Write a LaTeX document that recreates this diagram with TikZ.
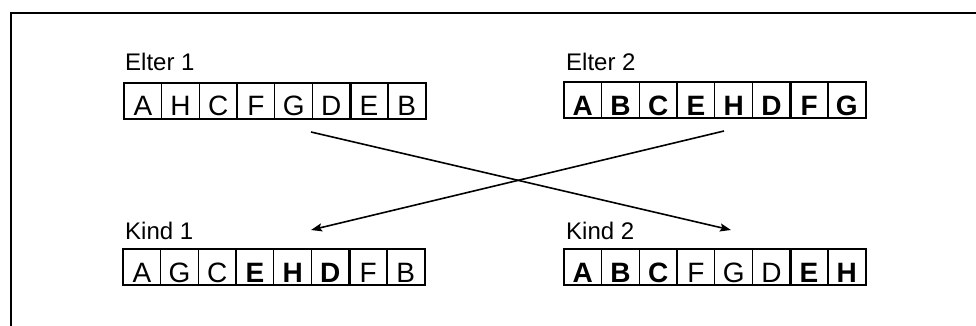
\documentclass[tikz,border=0pt]{standalone}
\usepackage{fontspec}
\setmainfont{Liberation Sans}
\usetikzlibrary{arrows.meta}
\begin{document}
\begin{tikzpicture}[x=1pt,y=1pt,
  cell/.style={draw, line width=1.3pt, minimum width=37.7pt, minimum height=36pt, inner sep=0pt, outer sep=0pt,
    text height=33pt, text depth=3pt, anchor=north west, font=\fontsize{28}{28}\selectfont},
  bcell/.style={cell, font=\fontsize{28}{28}\selectfont\bfseries},
  lbl/.style={anchor=base west, inner sep=0pt, font=\fontsize{24}{24}\selectfont},
  conn/.style={line width=1.6pt, -{Stealth[length=11pt,width=8pt,inset=2pt]}},
  frame/.style={line width=2.2pt},
  sep/.style={line width=2.6pt},
  outer/.style={line width=2pt}]
\useasboundingbox (0,0) rectangle (976,-326);
\clip (0,0) rectangle (976,-326);
\draw[frame] (11,-13) rectangle (1000,-400);

% labels
\node[lbl] (le1) at (125,-71) {Elter 1};
\node[lbl] (le2) at (566,-71) {Elter 2};
\node[lbl] (lk1) at (125,-239) {Kind 1};
\node[lbl] (lk2) at (566,-239) {Kind 2};

% Elter 1
\foreach \t/\w [count=\i] in {A/cell,H/cell,C/cell,F/cell,G/cell,D/cell,E/cell,B/cell}
  \node[\w] (ea\i) at ({124+(\i-1)*37.7},-83) {\t};
% Elter 2
\foreach \t/\w [count=\i] in {A/bcell,B/bcell,C/bcell,E/bcell,H/bcell,D/bcell,F/bcell,G/bcell}
  \node[\w] (eb\i) at ({564+(\i-1)*37.7},-82) {\t};
% Kind 1
\foreach \t/\w [count=\i] in {A/cell,G/cell,C/cell,E/bcell,H/bcell,D/bcell,F/cell,B/cell}
  \node[\w] (ka\i) at ({123+(\i-1)*37.7},-249) {\t};
% Kind 2
\foreach \t/\w [count=\i] in {A/bcell,B/bcell,C/bcell,F/cell,G/cell,D/cell,E/bcell,H/bcell}
  \node[\w] (kb\i) at ({564+(\i-1)*37.7},-249) {\t};

\foreach \r in {ea,eb,ka,kb}{
  \draw[sep] (\r3.north east) -- (\r3.south east);
  \draw[sep] (\r6.north east) -- (\r6.south east);
  \draw[outer] (\r1.north west) rectangle (\r8.south east);
}

% connectors
\coordinate (s1) at (311,-132);
\coordinate (t1) at (731,-230);
\coordinate (s2) at (724,-131);
\coordinate (t2) at (311,-230);
\draw[conn] (s1) -- (t1);
\draw[conn] (s2) -- (t2);
\end{tikzpicture}
\end{document}
